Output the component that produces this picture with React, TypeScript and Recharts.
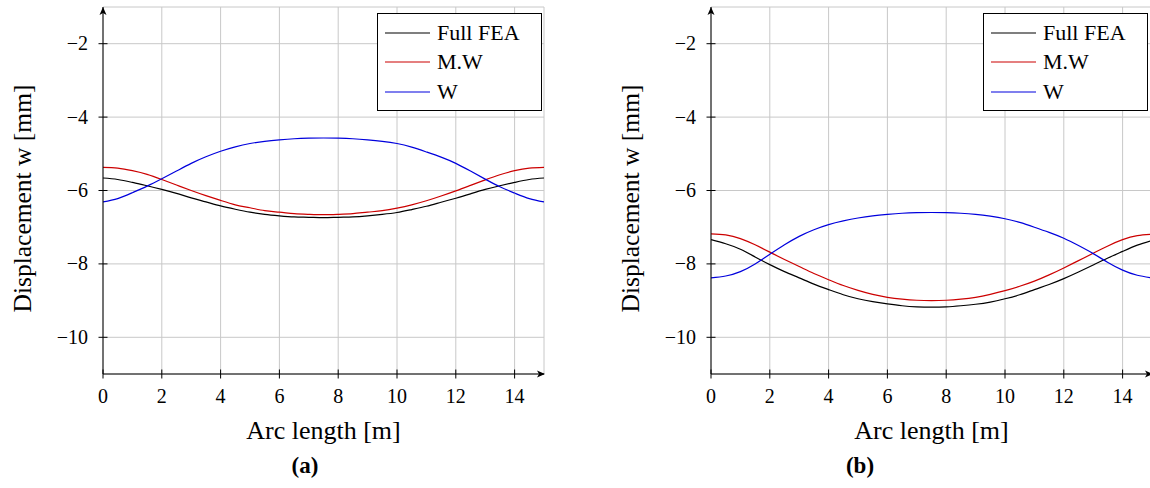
import { LineChart, Line, XAxis, YAxis, CartesianGrid, Legend, ReferenceDot } from 'recharts';

const SERIF = '"Liberation Serif", "Times New Roman", serif';
const GRID = '#c8c8c8';
const BLACK = '#000000';
const RED = '#cc0000';
const BLUE = '#0000dd';

// arc length [m]
const arcLength = [
  0, 0.5, 1, 1.5, 2, 2.5, 3, 3.5, 4, 4.5, 5, 5.5, 6, 6.5, 7, 7.5,
  8, 8.5, 9, 9.5, 10, 10.5, 11, 11.5, 12, 12.5, 13, 13.5, 14, 14.5, 15,
];

// (a)
const fullFeaA = [
  -5.66, -5.7, -5.78, -5.87, -5.97, -6.08, -6.2, -6.31, -6.42, -6.51, -6.59, -6.65, -6.69, -6.72, -6.73, -6.74,
  -6.73, -6.72, -6.69, -6.65, -6.6, -6.52, -6.43, -6.32, -6.21, -6.09, -5.97, -5.87, -5.78, -5.7, -5.66,
];
const mwA = [
  -5.37, -5.39, -5.46, -5.56, -5.7, -5.85, -6.0, -6.14, -6.27, -6.39, -6.47, -6.55, -6.59, -6.63, -6.65, -6.66,
  -6.65, -6.63, -6.59, -6.55, -6.48, -6.39, -6.28, -6.15, -6.01, -5.86, -5.71, -5.57, -5.46, -5.39, -5.37,
];
const wA = [
  -6.31, -6.22, -6.06, -5.88, -5.68, -5.47, -5.26, -5.08, -4.93, -4.81, -4.72, -4.66, -4.62, -4.59, -4.575, -4.57,
  -4.575, -4.59, -4.62, -4.66, -4.72, -4.82, -4.95, -5.09, -5.26, -5.47, -5.69, -5.9, -6.07, -6.22, -6.31,
];

// (b)
const fullFeaB = [
  -7.34, -7.45, -7.6, -7.81, -8.02, -8.21, -8.38, -8.55, -8.7, -8.84, -8.95, -9.03, -9.09, -9.14, -9.17, -9.18,
  -9.17, -9.14, -9.1, -9.04, -8.95, -8.84, -8.7, -8.56, -8.4, -8.22, -8.03, -7.84, -7.66, -7.49, -7.36,
];
const mwB = [
  -7.18, -7.21, -7.31, -7.48, -7.68, -7.88, -8.07, -8.26, -8.43, -8.59, -8.72, -8.83, -8.91, -8.96, -8.99, -9.0,
  -8.99, -8.96, -8.91, -8.83, -8.73, -8.61, -8.47, -8.3, -8.11, -7.91, -7.71, -7.51, -7.34, -7.23, -7.19,
];
const wB = [
  -8.38, -8.33, -8.21, -8.0, -7.74, -7.48, -7.25, -7.07, -6.93, -6.83, -6.75, -6.69, -6.65, -6.62, -6.605, -6.6,
  -6.605, -6.62, -6.65, -6.7, -6.77, -6.87, -7.0, -7.14, -7.3, -7.5, -7.72, -7.96, -8.17, -8.31, -8.38,
];

const xTicks = [0, 2, 4, 6, 8, 10, 12, 14];
const yTicks = [-10, -8, -6, -4, -2];

const seriesColor: Record<string, string> = { 'Full FEA': BLACK, 'M.W': RED, W: BLUE };

function buildRows(fea: number[], mw: number[], w: number[]) {
  return arcLength.map((x, i) => ({ x, fea: fea[i], mw: mw[i], w: w[i] }));
}

const rowsA = buildRows(fullFeaA, mwA, wA);
const rowsB = buildRows(fullFeaB, mwB, wB);

function fmt(v: number) {
  return v < 0 ? `\u2212${-v}` : `${v}`;
}

function XTick({ x, y, payload }: any) {
  return (
    <g>
      <line x1={x} x2={x} y1={y - 4.5} y2={y + 4.5} stroke={BLACK} />
      <text x={x} y={y + 29} textAnchor="middle" fontFamily={SERIF} fontSize={20} fill={BLACK}>
        {fmt(payload.value)}
      </text>
    </g>
  );
}

function YTick({ x, y, payload }: any) {
  return (
    <g>
      <line x1={x - 4.5} x2={x + 4.5} y1={y} y2={y} stroke={BLACK} />
      <text x={x - 15} y={y + 6.5} textAnchor="end" fontFamily={SERIF} fontSize={20} fill={BLACK}>
        {fmt(payload.value)}
      </text>
    </g>
  );
}

function LegendBox({ payload }: any) {
  return (
    <div
      style={{
        width: 165,
        height: 98,
        boxSizing: 'border-box',
        border: '1px solid #000',
        background: '#fff',
        paddingTop: 4,
      }}
    >
      {(payload || []).map((p: any) => (
        <div key={p.value} style={{ display: 'flex', alignItems: 'center', height: 29.5 }}>
          <svg width={52} height={6} style={{ display: 'block' }}>
            <line x1={7} x2={52} y1={3} y2={3} stroke={seriesColor[p.value] || p.color} strokeWidth={1.2} />
          </svg>
          <span style={{ marginLeft: 7, fontFamily: SERIF, fontSize: 22, lineHeight: 1, color: BLACK }}>{p.value}</span>
        </div>
      ))}
    </div>
  );
}

const xArrow = (p: any) => (
  <path d={`M${p.cx + 1},${p.cy} L${p.cx - 7},${p.cy - 3.5} L${p.cx - 5},${p.cy} L${p.cx - 7},${p.cy + 3.5} Z`} fill={BLACK} />
);
const yArrow = (p: any) => (
  <path d={`M${p.cx},${p.cy} L${p.cx - 3.5},${p.cy + 8} L${p.cx},${p.cy + 6} L${p.cx + 3.5},${p.cy + 8} Z`} fill={BLACK} />
);

function Panel({ rows, left, legendLeft }: { rows: any[]; left: number; legendLeft: number }) {
  return (
    <div style={{ position: 'absolute', left, top: 0 }}>
      <LineChart width={575} height={488} data={rows} margin={{ top: 7, right: 31, bottom: 0, left: 0 }}>
        <CartesianGrid stroke={GRID} strokeWidth={1} />
        <XAxis
          type="number"
          dataKey="x"
          domain={[0, 15]}
          ticks={xTicks}
          interval={0}
          allowDataOverflow
          height={114}
          tickSize={0}
          tickMargin={0}
          tickLine={false}
          axisLine={{ stroke: BLACK }}
          tick={<XTick />}
          label={{
            content: ({ viewBox }: any) => (
              <text
                x={viewBox.x + viewBox.width / 2}
                y={viewBox.y + 65}
                textAnchor="middle"
                fontFamily={SERIF}
                fontSize={26}
                fill={BLACK}
              >
                Arc length [m]
              </text>
            ),
          }}
        />
        <YAxis
          type="number"
          domain={[-11, -1]}
          ticks={yTicks}
          interval={0}
          allowDataOverflow
          width={103}
          tickSize={0}
          tickMargin={0}
          tickLine={false}
          axisLine={{ stroke: BLACK }}
          tick={<YTick />}
          label={{
            content: ({ viewBox }: any) => {
              const cx = 22;
              const cy = viewBox.y + viewBox.height / 2 + 8;
              return (
                <text
                  x={cx}
                  y={cy}
                  transform={`rotate(-90, ${cx}, ${cy})`}
                  textAnchor="middle"
                  dominantBaseline="central"
                  fontFamily={SERIF}
                  fontSize={25.5}
                  fill={BLACK}
                >
                  Displacement w [mm]
                </text>
              );
            },
          }}
        />
        <Line type="natural" dataKey="fea" name="Full FEA" stroke={BLACK} strokeWidth={1.2} dot={false} isAnimationActive={false} />
        <Line type="natural" dataKey="mw" name="M.W" stroke={RED} strokeWidth={1.2} dot={false} isAnimationActive={false} />
        <Line type="natural" dataKey="w" name="W" stroke={BLUE} strokeWidth={1.2} dot={false} isAnimationActive={false} />
        <ReferenceDot x={15} y={-11} r={0} ifOverflow="visible" shape={xArrow} />
        <ReferenceDot x={0} y={-1} r={0} ifOverflow="visible" shape={yArrow} />
        <Legend
          layout="vertical"
          align="center"
          verticalAlign="middle"
          content={<LegendBox />}
          wrapperStyle={{ top: 13, left: legendLeft, width: 165 }}
        />
      </LineChart>
    </div>
  );
}

const captionStyle: React.CSSProperties = {
  position: 'absolute',
  top: 452,
  width: 60,
  textAlign: 'center',
  fontFamily: SERIF,
  fontWeight: 'bold',
  fontSize: 23,
  lineHeight: '28px',
  color: BLACK,
};

export default function App() {
  return (
    <div style={{ position: 'relative', width: 1150, height: 488, overflow: 'hidden', background: '#fff' }}>
      <style>{'body{margin:0}'}</style>
      <Panel rows={rowsA} left={0} legendLeft={377} />
      <Panel rows={rowsB} left={608} legendLeft={375} />
      <div style={{ ...captionStyle, left: 275 }}>(a)</div>
      <div style={{ ...captionStyle, left: 830 }}>(b)</div>
    </div>
  );
}
